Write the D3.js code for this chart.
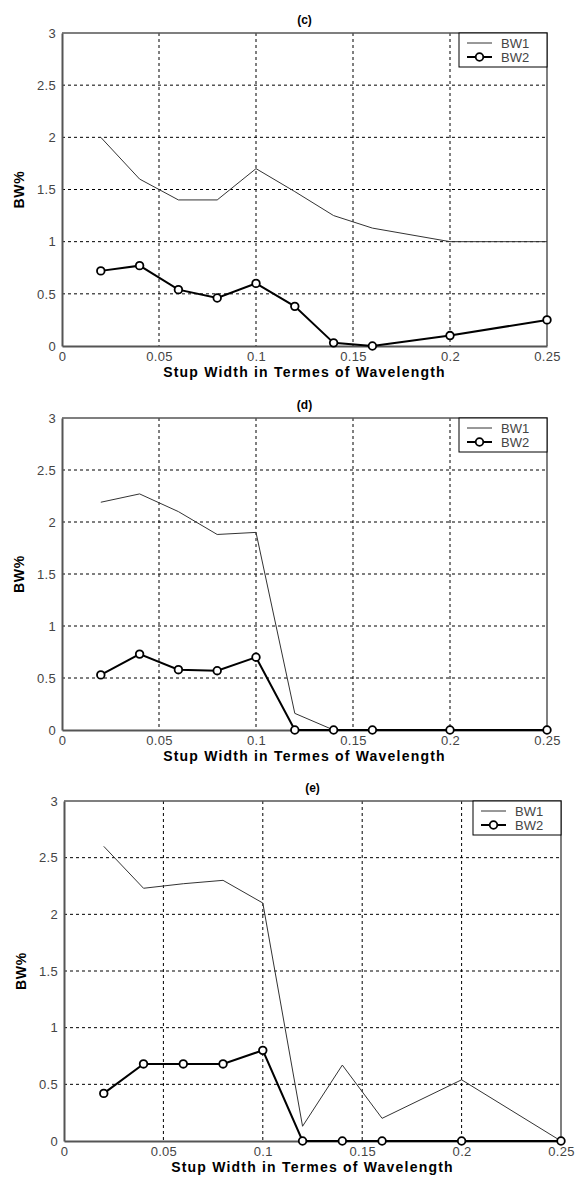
<!DOCTYPE html>
<html>
<head>
<meta charset="utf-8">
<script src="https://cdn.jsdelivr.net/npm/d3@7"></script>
<style>
  body { margin: 0; background: #fff; }
  svg { display: block; }
  text { font-family: "Liberation Sans", Arial, sans-serif; }
</style>
</head>
<body>
<div id="chart"></div>
<script>
// data
const stubWidth = [0.02, 0.04, 0.06, 0.08, 0.1, 0.12, 0.14, 0.16, 0.2, 0.25];

const bw1C = [2.0, 1.6, 1.4, 1.4, 1.7, 1.48, 1.25, 1.13, 1.0, 1.0];
const bw2C = [0.72, 0.77, 0.54, 0.46, 0.6, 0.38, 0.03, 0.0, 0.1, 0.25];

const bw1D = [2.19, 2.27, 2.1, 1.88, 1.9, 0.16, 0.0, 0.0, 0.0, 0.0];
const bw2D = [0.53, 0.73, 0.58, 0.57, 0.7, 0.0, 0.0, 0.0, 0.0, 0.0];

const bw1E = [2.6, 2.23, 2.27, 2.3, 2.1, 0.13, 0.67, 0.2, 0.54, 0.0];
const bw2E = [0.42, 0.68, 0.68, 0.68, 0.8, 0.0, 0.0, 0.0, 0.0, 0.0];

const xTicks = [0, 0.05, 0.1, 0.15, 0.2, 0.25];
const yTicks = [0, 0.5, 1, 1.5, 2, 2.5, 3];
const seriesNames = ["BW1", "BW2"];
const panelTitles = ["(c)", "(d)", "(e)"];
const xTitle = "Stup Width in Termes of Wavelength";
const yTitle = "BW%";

//*************************1. Layout
const width = 578, height = 1178;

const panels = [
  { title: panelTitles[0], bw1: bw1C, bw2: bw2C, left: 62, right: 547, top: 33, bottom: 346 },
  { title: panelTitles[1], bw1: bw1D, bw2: bw2D, left: 62, right: 547, top: 418, bottom: 730 },
  { title: panelTitles[2], bw1: bw1E, bw2: bw2E, left: 64, right: 561, top: 801, bottom: 1141 }
];

const svg = d3.select("#chart").append("svg")
  .attr("width", width)
  .attr("height", height);

//*************************2. Draw each panel
panels.forEach(p => {
  const xScale = d3.scaleLinear().domain([0, 0.25]).range([p.left, p.right]);
  const yScale = d3.scaleLinear().domain([0, 3]).range([p.bottom, p.top]);

  const g = svg.append("g");

  // grid
  g.append("g").selectAll("line")
    .data(xTicks.slice(1, -1))
    .join("line")
    .attr("x1", d => xScale(d)).attr("x2", d => xScale(d))
    .attr("y1", p.top).attr("y2", p.bottom)
    .attr("stroke", "#000").attr("stroke-width", 1)
    .attr("stroke-dasharray", "3,3");

  g.append("g").selectAll("line")
    .data(yTicks.slice(1, -1))
    .join("line")
    .attr("x1", p.left).attr("x2", p.right)
    .attr("y1", d => yScale(d)).attr("y2", d => yScale(d))
    .attr("stroke", "#000").attr("stroke-width", 1)
    .attr("stroke-dasharray", "3,3");

  // axes
  const xAxis = g.append("g")
    .attr("transform", `translate(0,${p.bottom})`)
    .call(d3.axisBottom(xScale).tickValues(xTicks).tickSize(0).tickPadding(6)
      .tickFormat(d => d3.format("")(d)));
  const yAxis = g.append("g")
    .attr("transform", `translate(${p.left},0)`)
    .call(d3.axisLeft(yScale).tickValues(yTicks).tickSize(0).tickPadding(6)
      .tickFormat(d => d3.format("")(d)));

  [xAxis, yAxis].forEach(a => {
    a.select(".domain").attr("stroke", "#555").attr("stroke-width", 2);
    a.selectAll("text")
      .attr("fill", "#444")
      .style("font-size", "13px")
      .style("letter-spacing", "0.3px")
      .style("font-family", "'Liberation Sans', Arial, sans-serif");
  });

  // top and right frame
  g.append("path")
    .attr("d", `M${p.left},${p.top}H${p.right}V${p.bottom}`)
    .attr("fill", "none")
    .attr("stroke", "#555")
    .attr("stroke-width", 1.5);

  // lines
  const line = d3.line()
    .x((d, i) => xScale(stubWidth[i]))
    .y(d => yScale(d));

  g.append("path")
    .datum(p.bw1)
    .attr("d", line)
    .attr("fill", "none")
    .attr("stroke", "#333")
    .attr("stroke-width", 1);

  g.append("path")
    .datum(p.bw2)
    .attr("d", line)
    .attr("fill", "none")
    .attr("stroke", "#000")
    .attr("stroke-width", 2);

  g.append("g").selectAll("circle")
    .data(p.bw2)
    .join("circle")
    .attr("cx", (d, i) => xScale(stubWidth[i]))
    .attr("cy", d => yScale(d))
    .attr("r", 3.8)
    .attr("fill", "#fff")
    .attr("stroke", "#000")
    .attr("stroke-width", 1.8);

  // legend
  const lw = 88, lh = 34;
  const lx = p.right - lw, ly = p.top;
  const legend = g.append("g").attr("transform", `translate(${lx},${ly})`);
  legend.append("rect")
    .attr("width", lw).attr("height", lh)
    .attr("fill", "#fff")
    .attr("stroke", "#000").attr("stroke-width", 1);

  seriesNames.forEach((name, i) => {
    const yy = 10 + i * 14;
    legend.append("line")
      .attr("x1", 8).attr("x2", 33)
      .attr("y1", yy).attr("y2", yy)
      .attr("stroke", i === 0 ? "#333" : "#000")
      .attr("stroke-width", i === 0 ? 1 : 2);
    if (i === 1) {
      legend.append("circle")
        .attr("cx", 20.5).attr("cy", yy).attr("r", 3.8)
        .attr("fill", "#fff").attr("stroke", "#000").attr("stroke-width", 1.8);
    }
    legend.append("text")
      .attr("x", 42).attr("y", yy + 4.5)
      .attr("fill", "#444")
      .style("font-size", "13px")
      .text(name);
  });

  // titles
  g.append("text")
    .attr("x", (p.left + p.right) / 2)
    .attr("y", p.top - 9)
    .attr("text-anchor", "middle")
    .style("font-size", "12px")
    .style("font-weight", "bold")
    .text(p.title);

  g.append("text")
    .attr("x", (p.left + p.right) / 2)
    .attr("y", p.bottom + 31)
    .attr("text-anchor", "middle")
    .style("font-size", "14px")
    .style("font-weight", "bold")
    .style("letter-spacing", "1.2px")
    .text(xTitle);

  g.append("text")
    .attr("transform", `translate(${p.left - 38},${(p.top + p.bottom) / 2}) rotate(-90)`)
    .attr("text-anchor", "middle")
    .style("font-size", "14px")
    .style("font-weight", "bold")
    .style("letter-spacing", "0.8px")
    .text(yTitle);
});
</script>
</body>
</html>
